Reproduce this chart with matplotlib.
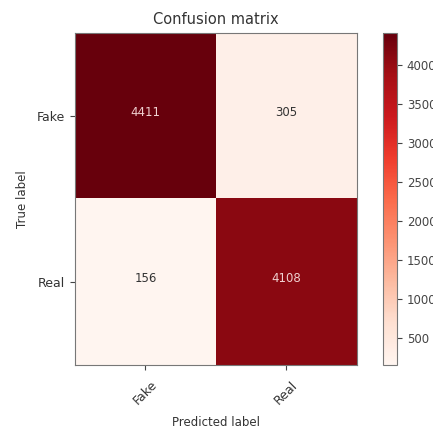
import numpy as np
import matplotlib
matplotlib.use("Agg")
import matplotlib.pyplot as plt

classes = ["Fake", "Real"]
cm = np.array([[4411, 305],
               [156, 4108]])

plt.rcParams['font.family'] = ['DejaVu Sans']

fig = plt.figure(figsize=(4.33, 4.32), dpi=100)
ax = fig.add_axes([0.173, 0.155, 0.651, 0.769])
cax = fig.add_axes([0.885, 0.155, 0.032, 0.769])

im = ax.imshow(cm, interpolation='nearest', cmap=plt.cm.Reds, aspect='auto')
ax.set_title("Confusion matrix", fontsize=10.5, color='#333333')
cb = fig.colorbar(im, cax=cax)
cb.ax.tick_params(labelsize=8.5, labelcolor='#444444', color='#444444')
cb.outline.set_edgecolor('#777777')

tick_marks = np.arange(len(classes))
ax.set_xticks(tick_marks)
ax.set_xticklabels(classes, rotation=45)
ax.set_yticks(tick_marks)
ax.set_yticklabels(classes)
ax.tick_params(labelsize=9, labelcolor='#333333', color='#444444')
ax.tick_params(axis='x', pad=6)

# text sits on the cell centre (baseline), like the old sklearn example
thresh = cm.max() / 2.
for i in range(cm.shape[0]):
    for j in range(cm.shape[1]):
        ax.text(j, i, cm[i, j], ha="center", fontsize=8.5,
                color="#f0d0d0" if cm[i, j] > thresh else "#333333")

ax.set_ylabel("True label", fontsize=8.5, color='#333333', labelpad=6)
ax.set_xlabel("Predicted label", fontsize=8.5, color='#333333', labelpad=6)
for s in ax.spines.values():
    s.set_edgecolor('#777777')

fig.savefig("out.png", dpi=100)
